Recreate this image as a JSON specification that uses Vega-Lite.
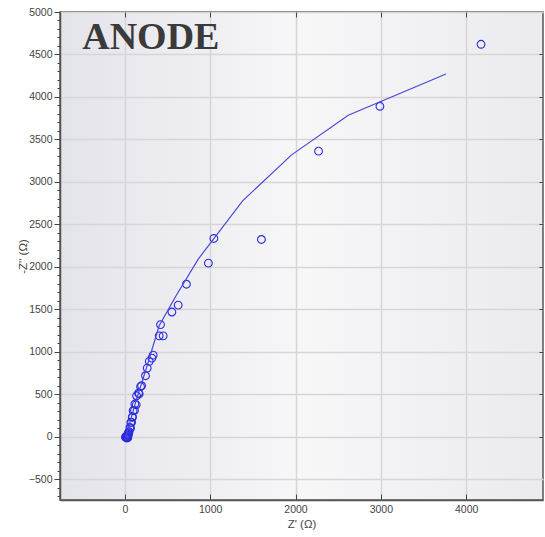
{
  "$schema": "https://vega.github.io/schema/vega-lite/v6.json",
  "width": 483,
  "height": 488,
  "autosize": {"type": "none"},
  "padding": {"left": 60, "top": 12, "right": 2, "bottom": 37},
  "background": "white",
  "config": {
    "view": {
      "fill": {"gradient": "linear", "x1": 0, "x2": 1, "y1": 0, "y2": 0,
        "stops": [{"offset": 0, "color": "#e3e3ea"}, {"offset": 0.5, "color": "#f7f7f8"}, {"offset": 1, "color": "#ebebef"}]},
      "stroke": "#555555",
      "strokeWidth": 1.5
    },
    "axis": {
      "labelFont": "Liberation Sans",
      "labelFontSize": 10.5,
      "labelColor": "#444444",
      "titleFont": "Liberation Sans",
      "titleFontSize": 11.5,
      "titleFontWeight": "normal",
      "titleColor": "#444444",
      "domainColor": "#555555",
      "domainWidth": 1.5,
      "tickColor": "#444444",
      "gridColor": "#d6d6d6",
      "gridWidth": 1.5
    }
  },
  "datasets": {
    "pts": [
      {"x": 4174, "y": 4620}, {"x": 2989, "y": 3890}, {"x": 2270, "y": 3362}, {"x": 1600, "y": 2322},
      {"x": 1043, "y": 2334}, {"x": 979, "y": 2043}, {"x": 722, "y": 1795}, {"x": 625, "y": 1550},
      {"x": 551, "y": 1468}, {"x": 418, "y": 1320}, {"x": 402, "y": 1188}, {"x": 449, "y": 1188},
      {"x": 332, "y": 961}, {"x": 317, "y": 926}, {"x": 286, "y": 887}, {"x": 262, "y": 808},
      {"x": 242, "y": 718}, {"x": 196, "y": 600}, {"x": 184, "y": 590}, {"x": 168, "y": 505},
      {"x": 160, "y": 514}, {"x": 137, "y": 482}, {"x": 117, "y": 385}, {"x": 133, "y": 376},
      {"x": 97, "y": 306}, {"x": 113, "y": 310}, {"x": 86, "y": 228}, {"x": 90, "y": 235},
      {"x": 70, "y": 169}, {"x": 79, "y": 169}, {"x": 59, "y": 110}, {"x": 67, "y": 102},
      {"x": 43, "y": 51}, {"x": 50, "y": 60}, {"x": 35, "y": 30}, {"x": 30, "y": 15},
      {"x": 25, "y": 5}, {"x": 20, "y": -7}, {"x": 15, "y": -10}, {"x": 22, "y": -15},
      {"x": 30, "y": -5}, {"x": 12, "y": 0}, {"x": 40, "y": 20}, {"x": 45, "y": 40},
      {"x": 8, "y": -5}, {"x": 35, "y": -12}
    ],
    "fit": [
      {"x": 10, "y": 0}, {"x": 60, "y": 170}, {"x": 130, "y": 420}, {"x": 250, "y": 800},
      {"x": 402, "y": 1306}, {"x": 600, "y": 1660}, {"x": 860, "y": 2091}, {"x": 1380, "y": 2777},
      {"x": 1954, "y": 3318}, {"x": 2618, "y": 3785}, {"x": 3763, "y": 4270}
    ],
    "label": [{"x": -500, "y": 4560, "t": "ANODE"}]
  },
  "resolve": {"axis": {"x": "independent", "y": "independent"}},
  "layer": [
    {
      "data": {"name": "pts"},
      "mark": {"type": "point", "shape": "circle", "filled": false, "stroke": "#2b2be0", "strokeWidth": 1.1, "size": 60, "opacity": 1},
      "encoding": {
        "x": {"field": "x", "type": "quantitative", "scale": {"domain": [-760, 4900], "nice": false, "zero": false},
          "axis": {"orient": "bottom", "title": "Z' (Ω)", "values": [0, 1000, 2000, 3000, 4000], "format": "d",
            "tickSize": -6, "labelPadding": 10, "titleY": 24, "titleBaseline": "middle", "grid": true}},
        "y": {"field": "y", "type": "quantitative", "scale": {"domain": [-745, 5000], "nice": false, "zero": false},
          "axis": {"orient": "left", "title": "-Z'' (Ω)", "format": "d",
            "values": [-700,-600,-500,-400,-300,-200,-100,0,100,200,300,400,500,600,700,800,900,1000,1100,1200,1300,1400,1500,1600,1700,1800,1900,2000,2100,2200,2300,2400,2500,2600,2700,2800,2900,3000,3100,3200,3300,3400,3500,3600,3700,3800,3900,4000,4100,4200,4300,4400,4500,4600,4700,4800,4900,5000],
            "labelExpr": "datum.value % 500 === 0 ? datum.label : ''",
            "gridOpacity": {"condition": {"test": "datum.value % 500 === 0", "value": 1}, "value": 0},
            "tickSize": {"condition": {"test": "datum.value % 500 === 0", "value": 6}, "value": 3},
            "labelPadding": 2, "titleX": -37, "titleBaseline": "middle", "grid": true}}
      }
    },
    {
      "data": {"name": "fit"},
      "mark": {"type": "line", "color": "#4848d8", "strokeWidth": 1.2},
      "encoding": {
        "x": {"field": "x", "type": "quantitative", "sort": null,
          "axis": {"orient": "top", "title": null, "labels": false, "values": [0, 1000, 2000, 3000, 4000], "tickSize": -5, "grid": false, "domain": false}},
        "y": {"field": "y", "type": "quantitative",
          "axis": {"orient": "right", "title": null, "labels": false, "values": [0, 500, 1000, 1500, 2000, 2500, 3000, 3500, 4000, 4500], "tickSize": -4, "grid": false, "domain": false}},
        "order": {"field": "x", "type": "quantitative"}
      }
    },
    {
      "data": {"name": "label"},
      "mark": {"type": "text", "font": "Liberation Serif", "fontWeight": "bold", "fontSize": 38, "color": "#3a3a3a", "align": "left", "baseline": "alphabetic"},
      "encoding": {
        "x": {"field": "x", "type": "quantitative", "axis": null},
        "y": {"field": "y", "type": "quantitative", "axis": null},
        "text": {"field": "t"}
      }
    }
  ]
}
